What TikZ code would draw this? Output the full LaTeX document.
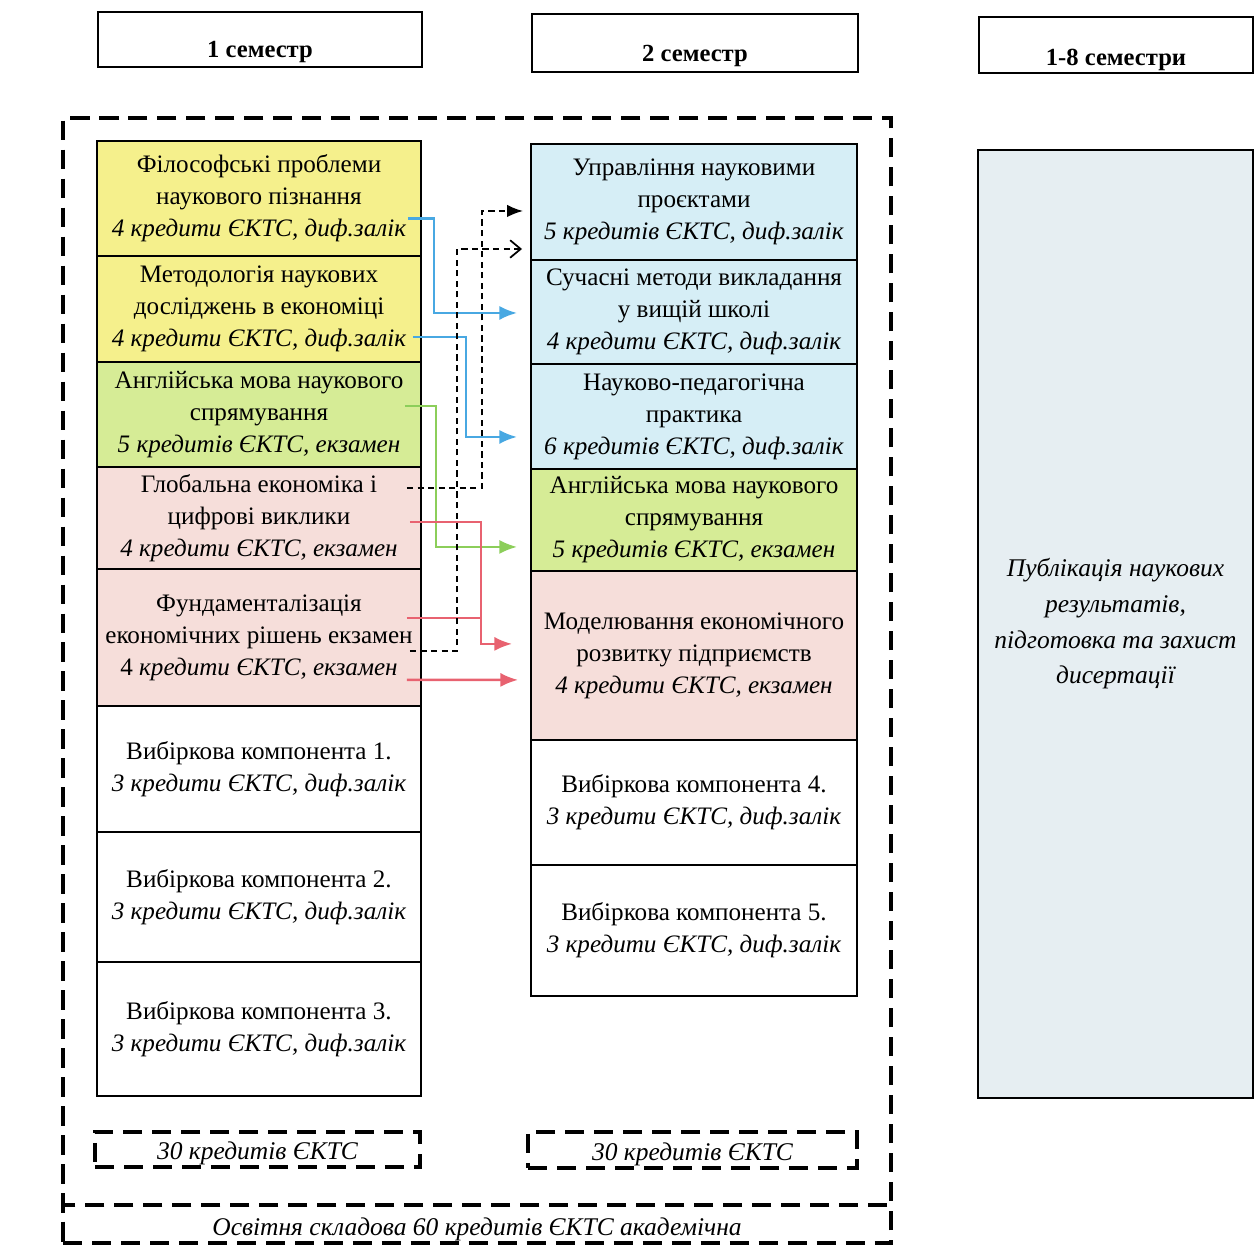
\documentclass[tikz,border=0pt]{standalone}
\usepackage{fontspec}
\setmainfont{Liberation Serif}
\usetikzlibrary{arrows.meta,positioning,calc}
\definecolor{yelColor}{RGB}{245,240,140}
\definecolor{grnColor}{RGB}{214,236,150}
\definecolor{pnkColor}{RGB}{246,222,218}
\definecolor{bluColor}{RGB}{214,238,246}
\definecolor{gryColor}{RGB}{230,238,242}
\definecolor{bArrColor}{RGB}{72,168,226}
\definecolor{gArrColor}{RGB}{140,206,90}
\definecolor{rArrColor}{RGB}{232,98,112}
\newcommand{\kr}[1]{\textit{#1}}

\begin{document}
\begin{tikzpicture}[x=0.02cm, y=-0.02cm,
	subj/.style={draw, line width=1pt, outer sep=0, inner sep=0, align=center,
		font=\fontsize{14.3}{18.2}\selectfont},
	head/.style={draw, line width=1.1pt, inner sep=0, outer sep=0,
		font=\fontsize{14}{16}\selectfont\bfseries},
	tot/.style={draw, line width=2pt, dash pattern=on 11pt off 5.5pt, inner sep=0,
		outer sep=0, font=\fontsize{14.5}{18}\selectfont\itshape},
	link/.style={line width=1.4pt, -{Latex[length=10pt,width=8pt]}},
	dlink/.style={line width=1pt, dash pattern=on 3.5pt off 2.5pt}]
	\useasboundingbox (0,0) rectangle (1257,1244);
	% semesters
	\node[head, minimum width=6.48cm, text height=0.92cm, text depth=0.18cm] (h1) at (260,39.5) {1 семестр};
	\node[head, minimum width=6.52cm, text height=0.96cm, text depth=0.2cm] (h2) at (695,43) {2 семестр};
	\node[head, minimum width=5.48cm, text height=0.98cm, text depth=0.14cm] (h3) at (1116,45) {1-8 семестри};
	% dashed frames
	\node[tot, minimum width=16.56cm, minimum height=22.5cm] (edu) at (477,680.5) {};
	\node[tot, minimum width=16.56cm, text height=0.6cm, text depth=0.16cm] (acad) at (477,1224) {Освітня складова 60 кредитів ЄКТС академічна};
	\node[tot, minimum width=6.5cm, text height=0.55cm, text depth=0.15cm] (sum1) at (257.5,1149.5) {30 кредитів ЄКТС};
	\node[tot, minimum width=6.58cm, text height=0.57cm, text depth=0.15cm] (sum2) at (692.5,1150) {30 кредитів ЄКТС};
	% 1 semester
	\node[subj, fill=yelColor, minimum width=6.48cm, minimum height=2.3cm, anchor=north] (f1) at (259,141) {Філософські проблеми\\наукового пізнання\\\kr{4 кредити ЄКТС, диф.залік}};
	\node[subj, fill=yelColor, minimum width=6.48cm, minimum height=2.12cm, below=0pt of f1] (f2) {Методологія наукових\\досліджень в економіці\\\kr{4 кредити ЄКТС, диф.залік}};
	\node[subj, fill=grnColor, minimum width=6.48cm, minimum height=2.1cm, below=0pt of f2] (f3) {Англійська мова наукового\\спрямування\\\kr{5 кредитів ЄКТС, екзамен}};
	\node[subj, fill=pnkColor, minimum width=6.48cm, minimum height=2.04cm, below=0pt of f3] (f4) {Глобальна економіка і\\цифрові виклики\\\kr{4 кредити ЄКТС, екзамен}};
	\node[subj, fill=pnkColor, minimum width=6.48cm, minimum height=2.74cm, below=0pt of f4] (f5) {Фундаменталізація\\економічних рішень екзамен\\4 \kr{кредити ЄКТС, екзамен}};
	\node[subj, minimum width=6.48cm, minimum height=2.52cm, below=0pt of f5] (v1) {Вибіркова компонента 1.\\\kr{3 кредити ЄКТС, диф.залік}};
	\node[subj, minimum width=6.48cm, minimum height=2.6cm, below=0pt of v1] (v2) {Вибіркова компонента 2.\\\kr{3 кредити ЄКТС, диф.залік}};
	\node[subj, minimum width=6.48cm, minimum height=2.68cm, below=0pt of v2] (v3) {Вибіркова компонента 3.\\\kr{3 кредити ЄКТС, диф.залік}};
	% 2 semester
	\node[subj, fill=bluColor, minimum width=6.52cm, minimum height=2.32cm, anchor=north] (s1) at (694,144) {Управління науковими\\проєктами\\\kr{5 кредитів ЄКТС, диф.залік}};
	\node[subj, fill=bluColor, minimum width=6.52cm, minimum height=2.08cm, below=0pt of s1] (s2) {Сучасні методи викладання\\у вищій школі\\\kr{4 кредити ЄКТС, диф.залік}};
	\node[subj, fill=bluColor, minimum width=6.52cm, minimum height=2.1cm, below=0pt of s2] (s3) {Науково-педагогічна\\практика\\\kr{6 кредитів ЄКТС, диф.залік}};
	\node[subj, fill=grnColor, minimum width=6.52cm, minimum height=2.04cm, below=0pt of s3] (s4) {Англійська мова наукового\\спрямування\\\kr{5 кредитів ЄКТС, екзамен}};
	\node[subj, fill=pnkColor, minimum width=6.52cm, minimum height=3.38cm, below=0pt of s4] (s5) {Моделювання економічного\\розвитку підприємств\\\kr{4 кредити ЄКТС, екзамен}};
	\node[subj, minimum width=6.52cm, minimum height=2.5cm, below=0pt of s5] (v4) {Вибіркова компонента 4.\\\kr{3 кредити ЄКТС, диф.залік}};
	\node[subj, minimum width=6.52cm, minimum height=2.62cm, below=0pt of v4] (v5) {Вибіркова компонента 5.\\\kr{3 кредити ЄКТС, диф.залік}};
	% 1-8 semesters
	\node[subj, fill=gryColor, minimum width=5.5cm, minimum height=18.96cm, font=\fontsize{14.5}{20.3}\selectfont\itshape] (pub) at (1115.5,624) {Публікація наукових\\результатів,\\підготовка та захист\\дисертації};
	% links
	\draw[link, bArrColor] ($(f1.east)+(-13,20)$) -- ++(26,0) |- ($(s2.west)+(-14,1)$);
	\draw[link, bArrColor] ($(f2.east)+(-8,28)$) -- ++(53,0) |- ($(s3.west)+(-14,20.5)$);
	\draw[link, gArrColor] ($(f3.east)+(-16,-8.5)$) -- ++(31,0) |- ($(s4.west)+(-14,27)$);
	\draw[link, rArrColor] ($(f4.east)+(-11,4)$) -- ++(71,0) |- ($(s5.west)+(-19,-11.5)$);
	\draw[line width=1.4pt, rArrColor] ($(f5.east)+(-14,-19.5)$) -- ++(74,0);
	\draw[link, rArrColor] ($(f5.east)+(-14,42.5)$) -- ($(s5.west)+(-13,24.5)$);
	\draw[dlink, -{Latex[length=9pt,width=7pt]}] ($(f4.east)+(-14,-30)$) -- ++(75,0) |- ($(s1.west)+(-8,9)$);
	\draw[dlink, -{Straight Barb[length=6pt,width=10pt]}] ($(f5.east)+(-11,13.5)$) -- ++(47,0) |- ($(s1.west)+(-9,47)$);
\end{tikzpicture}
\end{document}
